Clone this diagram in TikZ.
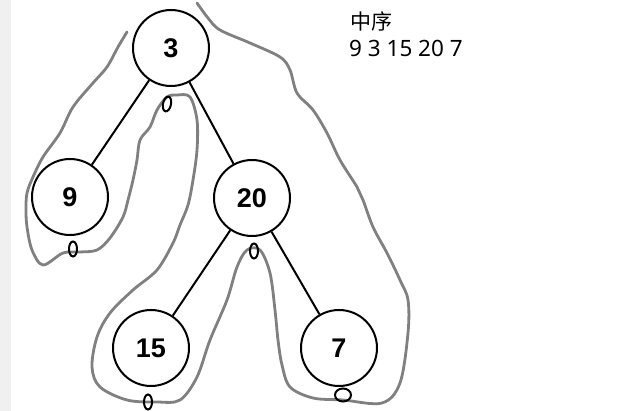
\documentclass[tikz,border=0pt]{standalone}
\usepackage{fontspec}
\setmainfont{Liberation Sans}
\newfontfamily\cjk{Noto Sans CJK SC}
\newfontfamily\seqfont{Noto Sans}
\usetikzlibrary{shapes.geometric}
\begin{document}
\begin{tikzpicture}[x=1pt,y=-1pt,
  treenode/.style={circle,draw=black,line width=2pt,minimum size=76pt,inner sep=0pt,
     font=\fontsize{27}{30}\selectfont\bfseries},
  edge/.style={draw=black,line width=2pt},
  zero/.style={ellipse,draw=black,line width=2pt,inner sep=0pt,minimum width=8pt,minimum height=15pt},
  contour/.style={draw=black!50,line width=2.8pt,line cap=round,line join=round},
  caption/.style={anchor=base west,inner sep=0pt}]
\useasboundingbox (0,0) rectangle (635,411);
\fill[black!6] (0,0) rectangle (11,411);
% contour
\draw[contour] plot[smooth,tension=0.55] coordinates {
(127,32) (118,47) (107,67) (93,83) (73,107) (60,133) (43,157) (33,177) (27,193) (26,210)
(27,227) (32,250) (43,265) (63,253) (80,252) (97,250) (110,238) (123,217) (128,200)
(133,180) (137,160) (140,140) (150,127) (157,110) (167,97) (177,95) (190,97) (197,120)
(197,150) (193,180) (188,205) (180,225) (173,243) (157,270) (133,290) (110,313) (97,337)
(92,367) (100,387) (127,400) (157,402) (180,400) (197,377) (210,340) (227,300) (237,267)
(247,250) (260,250) (270,273) (275,310) (278,340) (282,365) (290,387) (313,398) (343,400)
(382,403) (400,383) (408,333) (408,300) (400,280) (387,253) (373,227) (363,200) (357,187)
(340,160) (327,133) (313,110) (297,93) (290,70) (280,57) (250,43) (220,30) (208,18) (197,3)};
% nodes
\node[treenode] (n3) at (171,48) {3};
\node[treenode] (n9) at (70,197) {9};
\node[treenode] (n20) at (252,198) {20};
\node[treenode] (n15) at (151,348) {15};
\node[treenode] (n7) at (339,348) {7};
\draw[edge] (n3) -- (n9);
\draw[edge] (n3) -- (n20);
\draw[edge] (n20) -- (n15);
\draw[edge] (n20) -- (n7);
% zero marks
\node[zero,rotate=-12] (z3) at (167,104) {};
\node[zero] (z9) at (73,249) {};
\node[zero] (z20) at (254,251) {};
\node[zero] (z15) at (148,402) {};
\node[zero,minimum width=16pt,minimum height=13pt] (z7) at (343,395) {};
% text
\node[caption,font=\cjk\fontsize{21}{25}\selectfont] (title) at (350,30) {中序};
\node[caption,font=\seqfont\fontsize{22.5}{27}\selectfont] (seq) at (349,57) {9 3 15 20 7};
\end{tikzpicture}
\end{document}
